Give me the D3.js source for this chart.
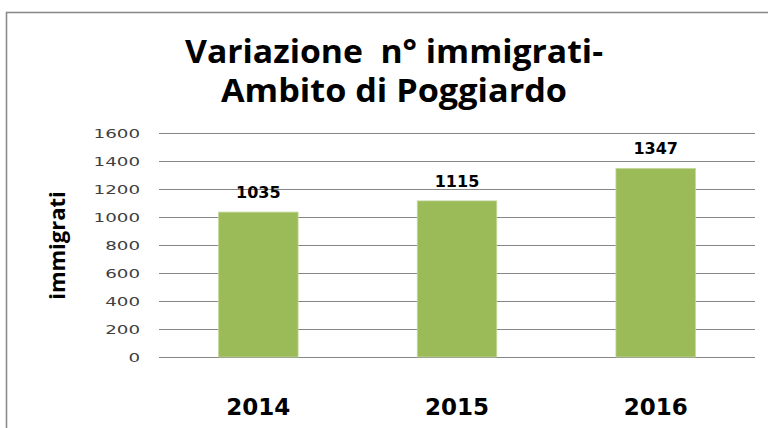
<!DOCTYPE html>
<html>
<head>
<meta charset="utf-8">
<script src="https://cdn.jsdelivr.net/npm/d3@7"></script>
<style>
  body { margin: 0; background: #fff; }
  svg { display: block; }
</style>
</head>
<body>
<div id="chart"></div>
<script>
const years = ["2014", "2015", "2016"];
const immigrati = [1035, 1115, 1347];
const yTicks = [0, 200, 400, 600, 800, 1000, 1200, 1400, 1600];
const titleLines = ["Variazione  n\u00b0 immigrati-", "Ambito di Poggiardo"];

const W = 768, H = 428;
const margin = {top: 133, right: 13, bottom: 71, left: 159};
const width = W - margin.left - margin.right,
      height = H - margin.top - margin.bottom;

const svg = d3.select("#chart")
  .append("svg")
    .attr("width", W)
    .attr("height", H);

// chart border (runs off the right and bottom edges)
svg.append("rect")
  .attr("x", 6.5)
  .attr("y", 12.5)
  .attr("width", 900)
  .attr("height", 600)
  .attr("fill", "none")
  .attr("stroke", "#8c8c8c")
  .attr("stroke-width", 1.6);

// title
svg.append("g")
  .selectAll("text")
  .data(titleLines)
  .enter()
  .append("text")
    .attr("x", 394)
    .attr("y", (d, i) => 63 + i * 39)
    .attr("text-anchor", "middle")
    .attr("xml:space", "preserve")
    .style("font-family", "Open Sans")
    .style("font-weight", "bold")
    .style("font-size", "32px")
    .style("white-space", "pre")
    .attr("textLength", (d, i) => i === 0 ? 418 : 346)
    .attr("lengthAdjust", "spacingAndGlyphs")
    .text(d => d);

const g = svg.append("g")
  .attr("transform", `translate(${margin.left},${margin.top})`);

//Y scale
const y = d3.scaleLinear()
  .domain([0, 1600])
  .range([height, 0]);

//X scale
const x = d3.scaleBand()
  .domain(years)
  .range([0, width])
  .paddingInner(0.6)
  .paddingOuter(0.3);

//Y axis with gridlines
const yAxis = g.append("g")
  .call(d3.axisLeft(y)
    .tickValues(yTicks)
    .tickFormat(d3.format("d"))
    .tickSize(-width)
    .tickPadding(19));
yAxis.select(".domain").remove();
yAxis.selectAll("line")
  .attr("stroke", "#868686")
  .attr("stroke-width", 1);
yAxis.selectAll("text")
  .style("font-family", "DejaVu Sans")
  .style("font-size", "12.5px")
  .attr("fill", "#404040")
  .attr("textLength", d => String(d).length * 11.6)
  .attr("lengthAdjust", "spacingAndGlyphs");

//Bars
g.selectAll("rect.bar")
  .data(years)
  .enter()
  .append("rect")
    .attr("class", "bar")
    .attr("x", d => x(d))
    .attr("y", (d, i) => y(immigrati[i]))
    .attr("width", x.bandwidth())
    .attr("height", (d, i) => height - y(immigrati[i]))
    .attr("fill", "#9bbb59")
    .attr("stroke", "#c3d69b")
    .attr("stroke-width", 0.8);

//Value labels
g.selectAll("text.val")
  .data(years)
  .enter()
  .append("text")
    .attr("class", "val")
    .attr("x", d => x(d) + x.bandwidth() / 2)
    .attr("y", (d, i) => y(immigrati[i]) - 14)
    .attr("text-anchor", "middle")
    .style("font-family", "DejaVu Sans")
    .style("font-weight", "bold")
    .style("font-size", "16px")
    .text((d, i) => immigrati[i]);

//X labels
g.selectAll("text.year")
  .data(years)
  .enter()
  .append("text")
    .attr("class", "year")
    .attr("x", d => x(d) + x.bandwidth() / 2)
    .attr("y", height + 58)
    .attr("text-anchor", "middle")
    .style("font-family", "DejaVu Sans")
    .style("font-weight", "bold")
    .style("font-size", "23px")
    .text(d => d);

//Y axis title
svg.append("text")
  .attr("transform", "rotate(-90)")
  .attr("x", -245.5)
  .attr("y", 65)
  .attr("text-anchor", "middle")
  .style("font-family", "Open Sans")
  .style("font-weight", "bold")
  .style("font-size", "22px")
  .text("immigrati");
</script>
</body>
</html>
